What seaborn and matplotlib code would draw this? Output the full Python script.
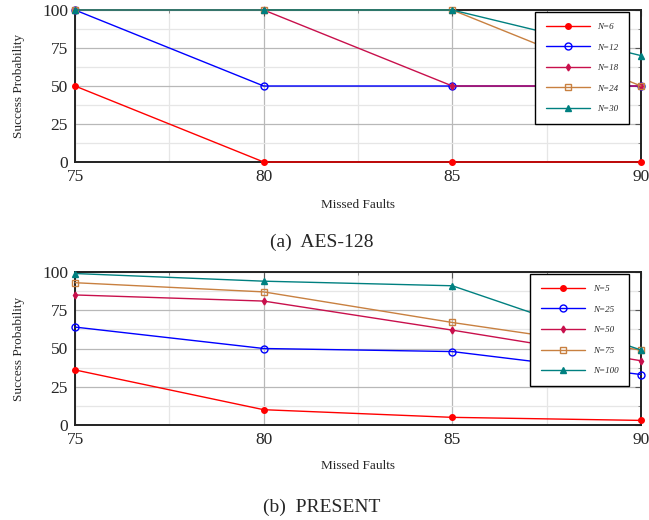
import numpy as np
import pandas as pd
import seaborn as sns
import matplotlib.pyplot as plt
from matplotlib.ticker import MultipleLocator

# data
missed = [75, 80, 85, 90]

aes_labels = ["N=6", "N=12", "N=18", "N=24", "N=30"]
aes_n6 = [50, 0, 0, 0]
aes_n12 = [100, 50, 50, 50]
aes_n18 = [100, 100, 50, 50]
aes_n24 = [100, 100, 100, 50]
aes_n30 = [100, 100, 100, 70]

present_labels = ["N=5", "N=25", "N=50", "N=75", "N=100"]
present_n5 = [36, 10, 5, 3]
present_n25 = [64, 50, 48, 33]
present_n50 = [85, 81, 62, 42]
present_n75 = [93, 87, 67, 49]
present_n100 = [99, 94, 91, 49]

colors = ["#ff0000", "#0000ff", "#c8104c", "#c88040", "#008080"]
markers = ["o", "o", "d", "s", "^"]
fills = [True, False, True, False, True]
msizes = [4, 5, 3.5, 5, 4.5]

sns.set_style("white")
plt.rcParams["font.family"] = ["Liberation Serif", "DejaVu Serif"]

fig = plt.figure(figsize=(6.49, 5.2), dpi=100)
ax1 = fig.add_axes([75 / 649, 1 - 162 / 520, 566 / 649, 152 / 520])
ax2 = fig.add_axes([75 / 649, 1 - 425 / 520, 566 / 649, 153 / 520])


def draw(ax, labels, series, caption, xlab_y, cap_y):
    for i, (lab, vals) in enumerate(zip(labels, series)):
        sns.lineplot(x=missed, y=vals, ax=ax, color=colors[i], marker=markers[i],
                     markersize=msizes[i], linewidth=1.0,
                     markerfacecolor=colors[i] if fills[i] else "none",
                     markeredgecolor=colors[i], markeredgewidth=1.0,
                     label=lab, zorder=3, clip_on=False)
    ax.set_xlim(75, 90)
    ax.set_ylim(0, 100)
    ax.xaxis.set_major_locator(MultipleLocator(5))
    ax.xaxis.set_minor_locator(MultipleLocator(2.5))
    ax.yaxis.set_major_locator(MultipleLocator(25))
    ax.yaxis.set_minor_locator(MultipleLocator(12.5))
    ax.grid(which="major", color="#b8b8b8", linewidth=0.9)
    ax.grid(which="minor", color="#e6e6e6", linewidth=0.9)
    ax.set_axisbelow(True)
    for s in ax.spines.values():
        s.set_color("#222222")
        s.set_linewidth(1.4)
    ax.tick_params(axis="both", which="major", direction="in", length=4,
                   labelsize=12.5, color="#555555", right=True, top=True, pad=5)
    ax.tick_params(axis="both", which="minor", direction="in", length=2.5,
                   color="#777777", right=True, top=True)
    ax.set_xlabel("")
    ax.set_ylabel("Success Probability", fontsize=9.5, labelpad=12)
    fig.text(358 / 649, xlab_y, "Missed Faults", ha="center", va="center", fontsize=9.5)
    fig.text(322 / 649, cap_y, caption, ha="center", va="center", fontsize=14)
    leg = ax.legend(loc="upper right", bbox_to_anchor=(0.979, 0.987), borderaxespad=0,
                    frameon=True, fancybox=False, edgecolor="black", framealpha=1,
                    prop={"style": "italic", "size": 6.5}, handlelength=4.9,
                    labelspacing=1.35, borderpad=1.2, handletextpad=0.8)
    leg.get_frame().set_linewidth(1.0)


draw(ax1, aes_labels, [aes_n6, aes_n12, aes_n18, aes_n24, aes_n30],
     "(a)  AES-128", 1 - 205 / 520, 1 - 242 / 520)
draw(ax2, present_labels, [present_n5, present_n25, present_n50, present_n75, present_n100],
     "(b)  PRESENT", 1 - 466 / 520, 1 - 507 / 520)

fig.savefig("out.png", dpi=100)
